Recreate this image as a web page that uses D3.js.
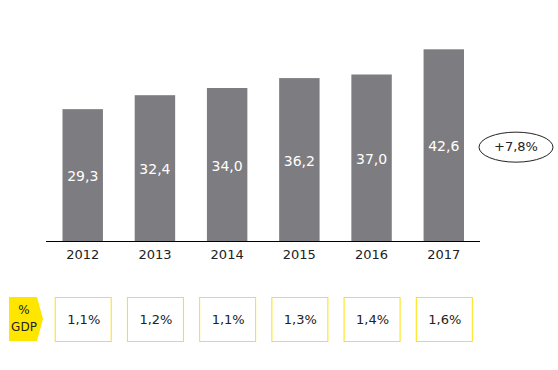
<!DOCTYPE html>
<html>
<head>
<meta charset="utf-8">
<script src="https://cdn.jsdelivr.net/npm/d3@7/dist/d3.min.js"></script>
<style>
body { margin: 0; background: #fff; }
svg text { font-family: Verdana, "DejaVu Sans", sans-serif; }
</style>
</head>
<body>
<svg id="chart" width="558" height="370"></svg>
<script>
var years = ["2012", "2013", "2014", "2015", "2016", "2017"];
var values = [29.3, 32.4, 34.0, 36.2, 37.0, 42.6];
var gdpShare = ["1,1%", "1,2%", "1,1%", "1,3%", "1,4%", "1,6%"];
var growthLabel = "+7,8%";

var svg = d3.select("#chart");
var baseline = 241;

var x = d3.scaleBand().domain(years).range([62.5, 464]).paddingInner(0.44).paddingOuter(0);
var y = d3.scaleLinear().domain([0, 45]).range([baseline, baseline - 45 * 4.5]);

function fmt(v) { return v.toFixed(1).replace(".", ","); }

// bars
svg.selectAll("rect.bar").data(values).enter().append("rect")
    .attr("class", "bar")
    .attr("x", function (d, i) { return x(years[i]); })
    .attr("y", function (d) { return y(d); })
    .attr("width", x.bandwidth())
    .attr("height", function (d) { return baseline - y(d); })
    .style("fill", "#7d7c80");

svg.selectAll("text.val").data(values).enter().append("text")
    .attr("class", "val")
    .attr("x", function (d, i) { return x(years[i]) + x.bandwidth() / 2; })
    .attr("y", function (d) { return (y(d) + baseline) / 2 + 2; })
    .attr("text-anchor", "middle").attr("dominant-baseline", "middle")
    .style("font-size", "14px").style("fill", "#fff")
    .text(fmt);

// axis
var axis = svg.append("g").attr("transform", "translate(0," + baseline + ")")
    .call(d3.axisBottom(x).tickSize(0).tickPadding(9));
axis.select(".domain").attr("stroke", "#000").attr("d", "M46,0.5H480");
axis.selectAll("text").style("font-size", "13px").style("fill", "#222")
    .style("font-family", "Verdana, 'DejaVu Sans', sans-serif");

// growth ellipse
var ey = (y(values[values.length - 1]) + baseline) / 2 + 2;
svg.append("ellipse").attr("cx", 516).attr("cy", ey).attr("rx", 37).attr("ry", 15)
    .attr("fill", "none").attr("stroke", "#222").attr("stroke-width", 1);
svg.append("text").attr("x", 516).attr("y", ey).attr("text-anchor", "middle")
    .attr("dominant-baseline", "middle").style("font-size", "13px").style("fill", "#222")
    .text(growthLabel);

// % GDP tag
var tagTop = 297, tagH = 44;
svg.append("path")
    .attr("d", "M9," + tagTop + "H37L43," + (tagTop + tagH / 2) + "L37," + (tagTop + tagH) + "H9Z")
    .attr("fill", "#ffe600");
svg.append("text").attr("x", 24).attr("y", 314).attr("text-anchor", "middle")
    .style("font-size", "12px").style("fill", "#222").text("%");
svg.append("text").attr("x", 24).attr("y", 331).attr("text-anchor", "middle")
    .style("font-size", "12px").style("fill", "#222").text("GDP");

// GDP boxes
var boxW = 56;
svg.selectAll("rect.gdp").data(gdpShare).enter().append("rect")
    .attr("class", "gdp")
    .attr("x", function (d, i) { return x(years[i]) + x.bandwidth() / 2 - boxW / 2 + 0.5; })
    .attr("y", tagTop + 0.5)
    .attr("width", boxW).attr("height", tagH)
    .attr("fill", "#fff").attr("stroke", "#ffe000").attr("stroke-width", 1);
svg.selectAll("text.gdp").data(gdpShare).enter().append("text")
    .attr("class", "gdp")
    .attr("x", function (d, i) { return x(years[i]) + x.bandwidth() / 2 + 1; })
    .attr("y", tagTop + tagH / 2 + 1)
    .attr("text-anchor", "middle").attr("dominant-baseline", "middle")
    .style("font-size", "13px").style("fill", "#222")
    .text(function (d) { return d; });
</script>
</body>
</html>
